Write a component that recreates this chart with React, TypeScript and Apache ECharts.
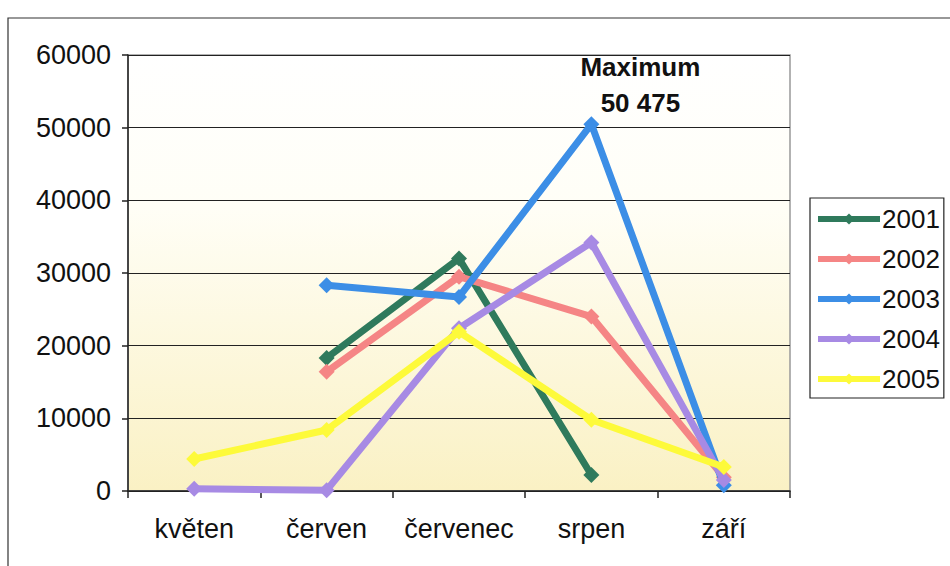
import React, { useEffect, useRef } from "react";
import * as echarts from "echarts";

const months = ["květen", "červen", "červenec", "srpen", "září"];
const yTicks = [0, 10000, 20000, 30000, 40000, 50000, 60000];
const years = ["2001", "2002", "2003", "2004", "2005"];
const v2001 = [null, 18300, 32000, 2200, null];
const v2002 = [null, 16400, 29500, 24000, 1900];
const v2003 = [null, 28300, 26700, 50475, 800];
const v2004 = [300, 100, 22400, 34200, 1500];
const v2005 = [4400, 8400, 21900, 9800, 3300];
const colors = ["#2f7a5c", "#f58585", "#3c8ee6", "#a78ae4", "#fdfa3a"];
const maxLabel = ["Maximum", "50 475"];

const FONT = "'Liberation Sans', Arial, sans-serif";

export default function App() {
  const ref = useRef<HTMLDivElement>(null);
  useEffect(() => {
    if (!ref.current) return;
    const chart = echarts.init(ref.current, null, { renderer: "svg" });
    const all = [v2001, v2002, v2003, v2004, v2005];
    let maxVal = -Infinity;
    let maxS = 0;
    let maxI = 0;
    all.forEach((arr, s) =>
      arr.forEach((v, i) => {
        if (v != null && v > maxVal) {
          maxVal = v;
          maxS = s;
          maxI = i;
        }
      })
    );
    const series = all.map((arr, s) => ({
      name: years[s],
      type: "line",
      data: arr.map((v, i) =>
        s === maxS && i === maxI
          ? {
              value: v,
              label: {
                show: true,
                position: "top",
                distance: 0,
                offset: [49, 5],
                formatter: maxLabel.join("\n"),
                fontFamily: FONT,
                fontWeight: "bold",
                fontSize: 26,
                lineHeight: 36,
                color: "#111",
              },
            }
          : v
      ),
      symbol: "diamond",
      symbolSize: 16,
      showSymbol: true,
      connectNulls: false,
      lineStyle: { width: 7, color: colors[s] },
      itemStyle: { color: colors[s] },
      z: 2 + s,
    }));
    chart.setOption({
      animation: false,
      backgroundColor: "#ffffff",
      graphic: [
        {
          type: "rect",
          shape: { x: 8, y: 18, width: 1000, height: 700 },
          style: { fill: "none", stroke: "#333", lineWidth: 1.2 },
          z: -10,
        },
      ],
      grid: {
        left: 128,
        right: 160,
        top: 55,
        bottom: 75,
        show: true,
        borderColor: "#999",
        borderWidth: 1.5,
        backgroundColor: new echarts.graphic.LinearGradient(0, 0, 0, 1, [
          { offset: 0, color: "#ffffff" },
          { offset: 0.35, color: "#fffef6" },
          { offset: 1, color: "#faf1c4" },
        ]),
      },
      legend: {
        orient: "vertical",
        left: 810,
        top: 198,
        itemWidth: 62,
        itemHeight: 14,
        itemGap: 14,
        padding: [8, 4, 6, 5],
        borderColor: "#222",
        borderWidth: 1.2,
        backgroundColor: "#ffffff",
        lineStyle: { width: 6 },
        textStyle: { fontFamily: FONT, fontSize: 26, color: "#111", padding: [0, 0, 0, -3] },
        data: years,
      },
      xAxis: {
        type: "category",
        data: months,
        boundaryGap: true,
        axisLine: { lineStyle: { color: "#222", width: 1.5 } },
        axisTick: { show: true, length: 7, lineStyle: { color: "#222", width: 1.5 } },
        axisLabel: { fontFamily: FONT, fontSize: 27, color: "#111", margin: 24, interval: 0 },
        splitLine: { show: false },
      },
      yAxis: {
        type: "value",
        min: yTicks[0],
        max: yTicks[yTicks.length - 1],
        interval: yTicks[1] - yTicks[0],
        axisLine: { show: true, lineStyle: { color: "#222", width: 1.5 } },
        axisTick: { show: true, length: 6, lineStyle: { color: "#222", width: 1.5 } },
        axisLabel: {
          fontFamily: FONT,
          fontSize: 27,
          color: "#111",
          margin: 17,
          formatter: (v: number) => String(v),
        },
        splitLine: { show: true, lineStyle: { color: "#222", width: 1.2 } },
      },
      series,
    });
    return () => chart.dispose();
  }, []);
  return <div ref={ref} style={{ width: 950, height: 566, position: "absolute", left: 0, top: 0 }} />;
}
